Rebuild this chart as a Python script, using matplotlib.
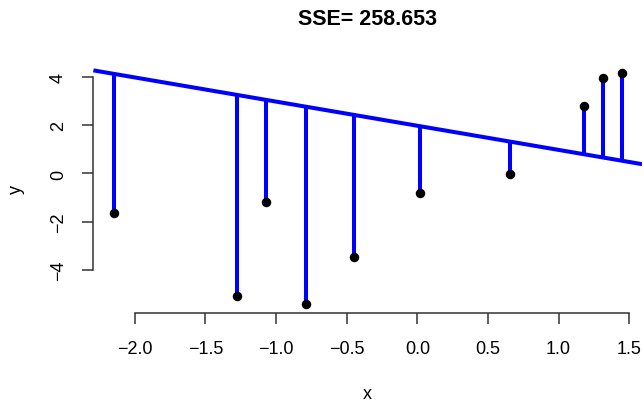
import matplotlib.pyplot as plt
import numpy as np

x = [-2.149, -1.275, -1.072, -0.789, -0.447, 0.018, 0.658, 1.180, 1.314, 1.447]
y = [-1.63, -5.06, -1.17, -5.41, -3.45, -0.80, -0.02, 2.80, 3.96, 4.16]
intercept = 1.975
slope = -1.0
title = "SSE= 258.653"

plt.rcParams['font.family'] = ['Liberation Sans', 'DejaVu Sans']

fig = plt.figure(figsize=(6.44, 4.02), dpi=100)
ax = fig.add_axes([0.145, 0.218, 0.852, 0.621])

xs = np.array(x)
ys = np.array(y)
xr = xs.max() - xs.min()
yr = ys.max() - ys.min()
ax.set_xlim(xs.min() - 0.04 * xr, xs.max() + 0.04 * xr)
ax.set_ylim(ys.min() - 0.04 * yr, ys.max() + 0.04 * yr)

# fitted line across the whole plot region
lx = np.array(ax.get_xlim())
ax.plot(lx, intercept + slope * lx, color='blue', lw=2.9, solid_capstyle='butt')

# residual segments
fit = intercept + slope * xs
ax.vlines(xs, ys, fit, color='blue', lw=2.9)
ax.scatter(xs, ys, s=34, color='black', zorder=3)

for s in ['top', 'right']:
    ax.spines[s].set_visible(False)
ax.spines['bottom'].set_bounds(-2.0, 1.5)
ax.spines['left'].set_bounds(-4, 4)
ax.set_xticks(np.arange(-2.0, 1.51, 0.5))
ax.set_yticks([-4, -2, 0, 2, 4])
ax.set_xticklabels(['\u22122.0', '\u22121.5', '\u22121.0', '\u22120.5', '0.0', '0.5', '1.0', '1.5'])
ax.set_yticklabels(['\u22124', '\u22122', '0', '2', '4'], rotation=90, va='center')
ax.tick_params(direction='out', length=8, labelsize=13, pad=11, color='#333333', width=1.1)
for s in ['left', 'bottom']:
    ax.spines[s].set_color('#333333')
    ax.spines[s].set_linewidth(1.1)

ax.set_xlabel('x', fontsize=13, labelpad=20)
ax.set_ylabel('y', fontsize=13, labelpad=18)
fig.text(0.571, 0.952, title, ha='center', va='center', fontsize=15.5, fontweight='bold')

fig.savefig('out.png', dpi=100)
